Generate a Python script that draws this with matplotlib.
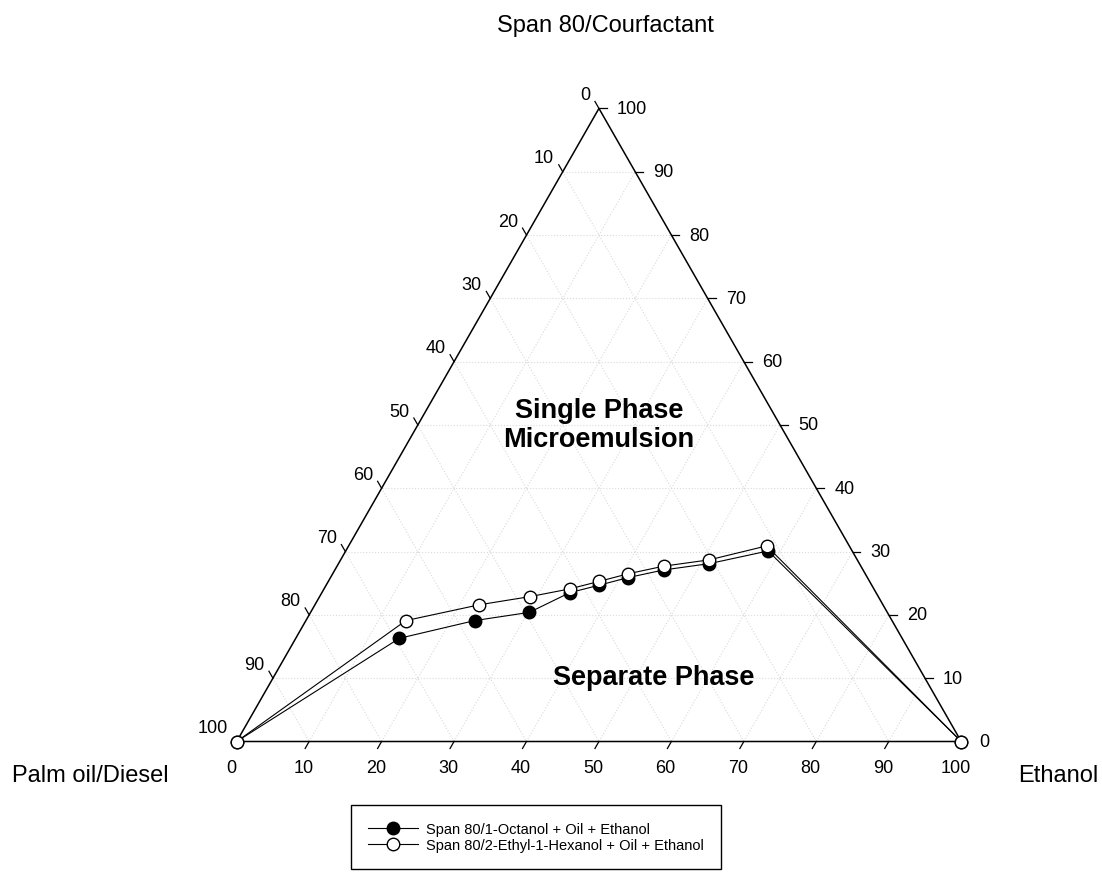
import numpy as np
import matplotlib
matplotlib.use('Agg')
import matplotlib.pyplot as plt

plt.rcParams['font.family'] = ['Liberation Sans', 'DejaVu Sans']

# compositions (wt%), oil = 100 - ethanol - surfactant
eth_octanol = [0, 14.3, 23.3, 30.2, 34.2, 37.7, 41.1, 45.4, 51.2, 58.3, 100]
surf_octanol = [0, 16.3, 19.1, 20.4, 23.5, 24.7, 25.9, 27.1, 28.1, 30.1, 0]
eth_hexanol = [0, 13.8, 22.7, 29.1, 33.9, 37.4, 40.8, 45.1, 50.9, 57.7, 100]
surf_hexanol = [0, 19.1, 21.6, 22.9, 24.1, 25.3, 26.5, 27.7, 28.7, 30.9, 0]

label_octanol = 'Span 80/1-Octanol + Oil + Ethanol'
label_hexanol = 'Span 80/2-Ethyl-1-Hexanol + Oil + Ethanol'
ticks = list(range(0, 101, 10))

h = np.sqrt(3) / 2


def tern(e, s):
    e = np.asarray(e, float)
    s = np.asarray(s, float)
    return e + s / 2, s * h


fig = plt.figure(figsize=(11.02, 8.79), dpi=100)
ax = fig.add_axes([0, 0, 1, 1])
ax.axis('off')
ax.set_xlim(-236.7 / 7.245, (1102 - 236.7) / 7.245)
ax.set_ylim((742.5 - 879) / 7.31, 742.5 / 7.31)

# faint grid
for v in ticks[1:-1]:
    x, y = tern([0, 100 - v], [v, v])
    ax.plot(x, y, ':', color='#dadada', lw=0.8, zorder=1)
    x, y = tern([v, v], [0, 100 - v])
    ax.plot(x, y, ':', color='#dadada', lw=0.8, zorder=1)
    x, y = tern([0, 100 - v], [100 - v, 0])
    ax.plot(x, y, ':', color='#dadada', lw=0.8, zorder=1)

# triangle
x, y = tern([0, 100, 0, 0], [0, 0, 100, 0])
ax.plot(x, y, color='black', lw=1.1, zorder=2)

tl = 1.1
for v in ticks:
    # bottom axis: ethanol
    x, y = tern(v, 0)
    if 0 < v < 100:
        ax.plot([x, x - 0.5 * tl], [y, y - h * tl], color='black', lw=0.9)
    ax.text(x - 0.8, y - 3.5, str(v), ha='center', va='center', fontsize=13)
    # right axis: surfactant
    x, y = tern(100 - v, v)
    if v > 0:
        ax.plot([x, x + tl], [y, y], color='black', lw=0.9)
    ax.text(x + 2.5, y, str(v), ha='left', va='center', fontsize=13)
    # left axis: oil
    x, y = tern(0, 100 - v)
    if v < 100:
        ax.plot([x, x - 0.5 * tl], [y, y + h * tl], color='black', lw=0.9)
    ax.text(x - 1.2, y + 1.9, str(v), ha='right', va='center', fontsize=13)

x, y = tern(eth_octanol, surf_octanol)
l1, = ax.plot(x, y, '-o', color='black', lw=0.8, ms=9, mfc='black',
              mec='black', mew=1, label=label_octanol, zorder=3)
x, y = tern(eth_hexanol, surf_hexanol)
l2, = ax.plot(x, y, '-o', color='black', lw=0.8, ms=9, mfc='white',
              mec='black', mew=1, label=label_hexanol, zorder=4)

ax.text(50.0, 43.3, 'Single Phase\nMicroemulsion', ha='center', va='center',
        fontsize=19.5, fontweight='bold', linespacing=1.15)
ax.text(57.5, 8.8, 'Separate Phase', ha='center', va='center',
        fontsize=19.5, fontweight='bold')

fig.text(605 / 1102, 1 - 26 / 879, 'Span 80/Courfactant', ha='center', va='center', fontsize=17)
fig.text(90 / 1102, 1 - 776 / 879, 'Palm oil/Diesel', ha='center', va='center', fontsize=17)
fig.text(1058 / 1102, 1 - 776 / 879, 'Ethanol', ha='center', va='center', fontsize=17)

leg = ax.legend(handles=[l1, l2], loc='center',
                bbox_to_anchor=(536 / 1102, 1 - 838 / 879), bbox_transform=fig.transFigure,
                fontsize=10.5, frameon=True, fancybox=False, framealpha=1,
                edgecolor='black', borderpad=1.15, labelspacing=0.12,
                handlelength=3.4, handletextpad=0.55, borderaxespad=0)
leg.get_frame().set_linewidth(1.0)

plt.savefig('out.png', dpi=100)
